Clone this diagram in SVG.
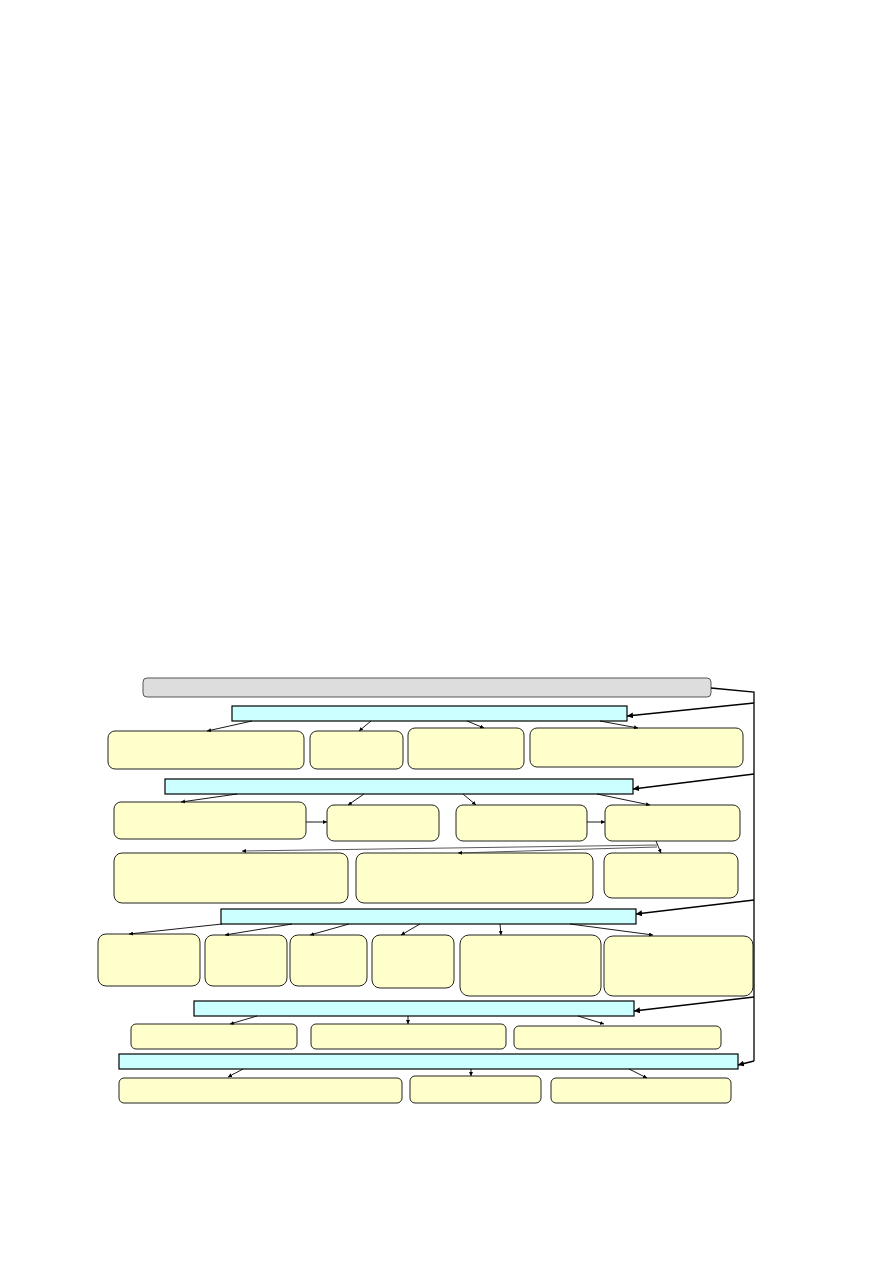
<svg xmlns="http://www.w3.org/2000/svg" width="893" height="1263" viewBox="0 0 893 1263">
<defs>
<marker id="ah" viewBox="0 0 10 10" refX="10" refY="5" markerWidth="4" markerHeight="4" orient="auto" markerUnits="userSpaceOnUse">
<path d="M0,0 L10,5 L0,10 z" fill="#000"/>
</marker>
<marker id="ahb" viewBox="0 0 10 10" refX="10" refY="5" markerWidth="6" markerHeight="6" orient="auto" markerUnits="userSpaceOnUse">
<path d="M0,0 L10,5 L0,10 z" fill="#000"/>
</marker>
</defs>
<style>
.box{fill:#FFFFCC;stroke:#222;stroke-width:1}
.bar{fill:#CCFFFF;stroke:#000;stroke-width:1.2}
.top{fill:#DDDDDD;stroke:#555;stroke-width:1}
.c{stroke:#000;stroke-width:0.9;fill:none;marker-end:url(#ah)}
.cb{stroke:#000;stroke-width:1.3;fill:none;marker-end:url(#ahb)}
.cg{stroke:#444;stroke-width:0.9;fill:none;marker-end:url(#ah)}
.ln{stroke:#000;stroke-width:1.3;fill:none}
</style>
<rect width="893" height="1263" fill="#fff"/>
<g id="top"><rect class="top" x="143" y="678" width="568" height="19" rx="4"/></g>
<g id="bar1"><rect class="bar" x="232" y="706" width="395" height="15"/></g>
<g id="bar2"><rect class="bar" x="165" y="779" width="468" height="15"/></g>
<g id="bar3"><rect class="bar" x="221" y="909" width="415" height="15"/></g>
<g id="bar4"><rect class="bar" x="194" y="1001" width="440" height="15"/></g>
<g id="bar5"><rect class="bar" x="119" y="1054" width="619" height="15"/></g>
<g id="nA"><rect class="box" x="108" y="731" width="196" height="38" rx="7"/></g>
<g id="nB"><rect class="box" x="310" y="731" width="93" height="38" rx="7"/></g>
<g id="nC"><rect class="box" x="408" y="728" width="116" height="41" rx="7"/></g>
<g id="nD"><rect class="box" x="530" y="728" width="213" height="39" rx="7"/></g>
<g id="nE"><rect class="box" x="114" y="802" width="192" height="37" rx="7"/></g>
<g id="nF"><rect class="box" x="327" y="805" width="112" height="36" rx="7"/></g>
<g id="nG"><rect class="box" x="456" y="805" width="131" height="36" rx="7"/></g>
<g id="nH"><rect class="box" x="605" y="805" width="135" height="36" rx="7"/></g>
<g id="nI"><rect class="box" x="114" y="853" width="234" height="50" rx="8"/></g>
<g id="nJ"><rect class="box" x="356" y="853" width="237" height="50" rx="8"/></g>
<g id="nK"><rect class="box" x="604" y="853" width="134" height="45" rx="8"/></g>
<g id="nL"><rect class="box" x="98" y="934" width="102" height="52" rx="8"/></g>
<g id="nM"><rect class="box" x="205" y="935" width="82" height="51" rx="8"/></g>
<g id="nN"><rect class="box" x="290" y="935" width="77" height="51" rx="8"/></g>
<g id="nO"><rect class="box" x="372" y="935" width="82" height="53" rx="8"/></g>
<g id="nP"><rect class="box" x="460" y="935" width="141" height="61" rx="9"/></g>
<g id="nQ"><rect class="box" x="604" y="936" width="149" height="60" rx="9"/></g>
<g id="nR"><rect class="box" x="131" y="1024" width="166" height="25" rx="5"/></g>
<g id="nS"><rect class="box" x="311" y="1024" width="195" height="25" rx="5"/></g>
<g id="nT"><rect class="box" x="514" y="1026" width="207" height="23" rx="5"/></g>
<g id="nU"><rect class="box" x="119" y="1078" width="283" height="25" rx="5"/></g>
<g id="nV"><rect class="box" x="410" y="1076" width="131" height="27" rx="5"/></g>
<g id="nW"><rect class="box" x="551" y="1078" width="180" height="25" rx="5"/></g>
<g id="connectors">
<polyline class="ln" points="711,688 754,692 754,1061"/>
<line class="cb" x1="754" y1="703" x2="627" y2="716"/>
<line class="cb" x1="754" y1="774" x2="633" y2="789"/>
<line class="cb" x1="754" y1="900" x2="636" y2="914"/>
<line class="cb" x1="754" y1="997" x2="634" y2="1011"/>
<line class="cb" x1="754" y1="1061" x2="738" y2="1065"/>
<line class="c" x1="252" y1="721" x2="207" y2="731"/>
<line class="c" x1="371" y1="721" x2="359" y2="731"/>
<line class="c" x1="467" y1="721" x2="484" y2="728"/>
<line class="c" x1="600" y1="721" x2="638" y2="728"/>
<line class="c" x1="237" y1="794" x2="181" y2="802"/>
<line class="c" x1="364" y1="794" x2="348" y2="805"/>
<line class="c" x1="463" y1="794" x2="476" y2="805"/>
<line class="c" x1="597" y1="794" x2="650" y2="805"/>
<line class="c" x1="306" y1="822" x2="327" y2="822"/>
<line class="c" x1="587" y1="822" x2="605" y2="822"/>
<line class="c" x1="656" y1="841" x2="661" y2="853"/>
<line class="cg" x1="657" y1="845" x2="242" y2="851"/>
<line class="cg" x1="657" y1="847" x2="458" y2="853"/>
<line class="c" x1="222" y1="924" x2="129" y2="934"/>
<line class="c" x1="292" y1="924" x2="225" y2="935"/>
<line class="c" x1="349" y1="924" x2="310" y2="935"/>
<line class="c" x1="420" y1="924" x2="401" y2="935"/>
<line class="c" x1="500" y1="924" x2="501" y2="935"/>
<line class="c" x1="570" y1="924" x2="653" y2="935"/>
<line class="c" x1="257" y1="1016" x2="230" y2="1024"/>
<line class="c" x1="408" y1="1016" x2="408" y2="1024"/>
<line class="c" x1="578" y1="1016" x2="604" y2="1024"/>
<line class="c" x1="243" y1="1069" x2="228" y2="1077"/>
<line class="c" x1="471" y1="1069" x2="471" y2="1076"/>
<line class="c" x1="629" y1="1069" x2="647" y2="1078"/>
</g>
</svg>
